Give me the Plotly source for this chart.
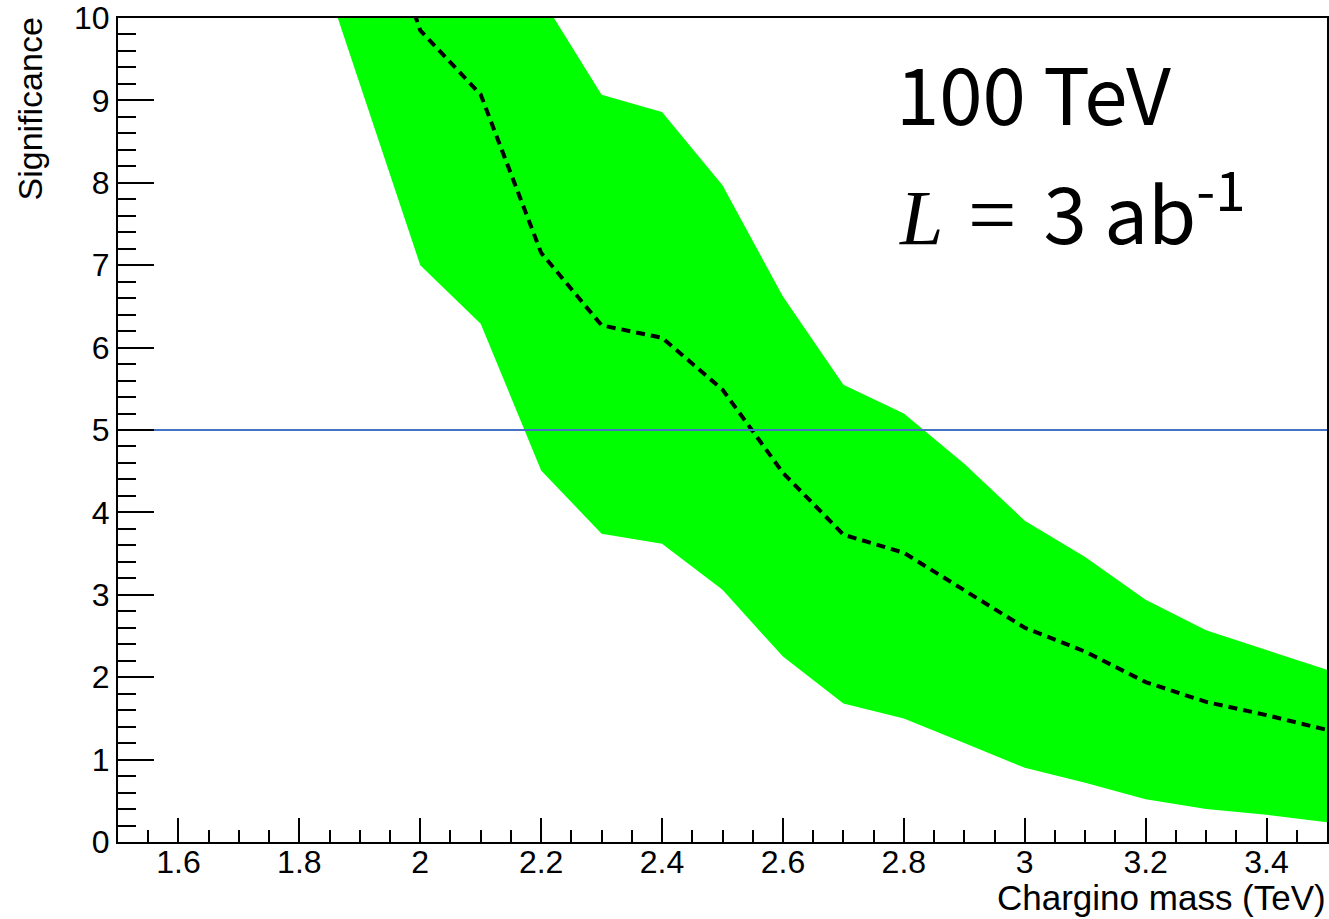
import plotly.graph_objects as go

# ---- data ----
mass = [1.8, 1.9, 2.0, 2.1, 2.2, 2.3, 2.4, 2.5, 2.6, 2.7, 2.8, 2.9, 3.0, 3.1, 3.2, 3.3, 3.4, 3.5]
sig_upper = [16.0, 15.0, 13.5, 12.0, 10.25, 9.07, 8.86, 7.97, 6.62, 5.55, 5.20, 4.59, 3.90, 3.46, 2.94, 2.57, 2.33, 2.09]
sig_median = [14.0, 12.0, 9.85, 9.07, 7.15, 6.27, 6.12, 5.49, 4.48, 3.73, 3.51, 3.06, 2.60, 2.31, 1.94, 1.70, 1.54, 1.36]
sig_lower = [11.4, 9.2, 7.00, 6.29, 4.51, 3.74, 3.62, 3.06, 2.25, 1.68, 1.50, 1.20, 0.90, 0.72, 0.52, 0.40, 0.33, 0.24]
discovery_level = 5.0

x_range = [1.5, 3.5]
y_range = [0, 10]

x_title = "Chargino mass (TeV)"
y_title = "Significance"
label_energy = "100 TeV"

FONT = "Liberation Sans, Arial, Helvetica, sans-serif"
LFONT = "Noto Sans CJK JP, Noto Sans, sans-serif"

# plot-area size in px (used to place the free labels)
PW, PH = 1209, 824

fig = go.Figure()

# green band (polygon built from upper + reversed lower)
band_x = mass + mass[::-1]
band_y = sig_upper + sig_lower[::-1]
fig.add_trace(go.Scatter(
    x=band_x, y=band_y, mode="lines", fill="toself",
    fillcolor="#00ff00", line=dict(width=0, color="#00ff00"),
    hoverinfo="skip", showlegend=False,
))

# median dashed line
fig.add_trace(go.Scatter(
    x=mass, y=sig_median, mode="lines",
    line=dict(color="black", width=4, dash="9px,6px"),
    showlegend=False,
))

# 5 sigma line
fig.add_trace(go.Scatter(
    x=x_range, y=[discovery_level, discovery_level], mode="lines",
    line=dict(color="#4472c4", width=2),
    showlegend=False,
))

fig.update_layout(
    width=1329, height=919,
    margin=dict(l=118, r=2, t=18, b=77, autoexpand=False),
    paper_bgcolor="white", plot_bgcolor="white",
    font=dict(family=FONT, color="black"),
    showlegend=False,
)

fig.update_xaxes(
    range=x_range, showgrid=False, zeroline=False, automargin=False,
    showline=True, linecolor="black", linewidth=2, mirror=True,
    ticks="inside", ticklen=24, tickwidth=2, tickcolor="black",
    tick0=1.6, dtick=0.2,
    tickfont=dict(family=FONT, size=32, color="black"),
    ticklabelstandoff=-9, ticklabeloverflow="allow",
    minor=dict(ticks="inside", ticklen=12, tickwidth=2, tickcolor="black", dtick=0.05, tick0=1.5, showgrid=False),
    tickformat="~g",
)
fig.update_yaxes(
    range=y_range, showgrid=False, zeroline=False, automargin=False,
    showline=True, linecolor="black", linewidth=2, mirror=True,
    ticks="inside", ticklen=36, tickwidth=2, tickcolor="black",
    tick0=0, dtick=1,
    tickfont=dict(family=FONT, size=32, color="black"),
    ticklabeloverflow="allow",
    minor=dict(ticks="inside", ticklen=18, tickwidth=2, tickcolor="black", dtick=0.2, tick0=0, showgrid=False),
)

# axis titles (ROOT style: right/top aligned)
fig.add_annotation(
    text=x_title, xref="paper", yref="paper", x=1.0 + 1 / PW, y=-(876 - 842) / PH,
    xanchor="right", yanchor="top", showarrow=False,
    font=dict(family=FONT, size=35, color="black"),
)
fig.add_annotation(
    text=y_title, xref="paper", yref="paper", x=-(118 - 30) / PW, y=1.0 + 3 / PH,
    xanchor="center", yanchor="top", textangle=-90, showarrow=False,
    font=dict(family=FONT, size=34, color="black"),
)

# labels in the plot
fig.add_annotation(
    text=label_energy, xref="paper", yref="paper", x=(894 - 118) / PW, y=(842 - 91) / PH,
    xanchor="left", yanchor="middle", showarrow=False,
    font=dict(family=LFONT, size=78, color="black"),
)
fig.add_annotation(
    text=('<span style="font-family:Liberation Serif"><i>L</i></span>'
          '<span style="font-size:110px">&nbsp;</span>'
          '<span style="font-family:Liberation Serif;font-size:86px">=</span>'
          '<span style="font-size:120px">&nbsp;</span>3 ab<sup>-1</sup>'),
    xref="paper", yref="paper", x=(897 - 118) / PW, y=(842 - 192) / PH,
    xanchor="left", yanchor="middle", showarrow=False,
    font=dict(family=LFONT, size=78, color="black"),
)

fig.write_html("out.html", post_script="document.body.style.margin='0';",
               config={"displayModeBar": False})
